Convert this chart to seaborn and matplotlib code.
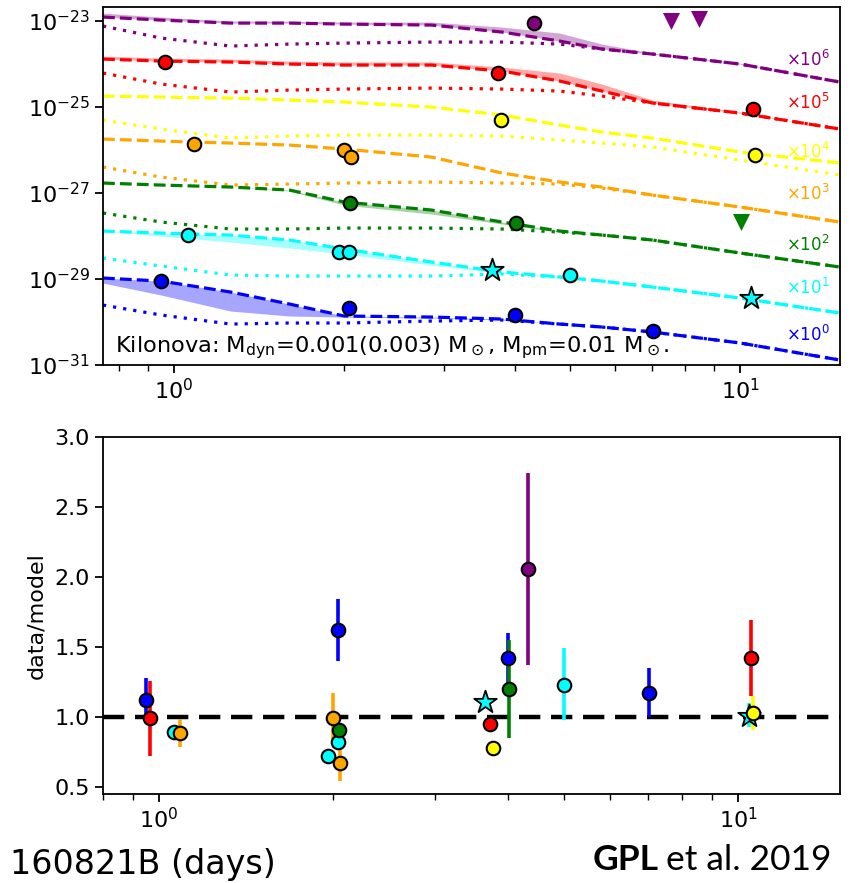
import numpy as np
import matplotlib
matplotlib.use("Agg")
import matplotlib.pyplot as plt
import matplotlib.transforms as mtransforms
from matplotlib.ticker import NullLocator, NullFormatter
import seaborn as sns

# ---------------- data ----------------
bands = ["blue", "cyan", "green", "orange", "yellow", "red", "purple"]
scale_exp = [0, 1, 2, 3, 4, 5, 6]

# model time grid (days since burst)
t_model = [0.75, 0.95, 1.26, 1.6, 2.0, 2.85, 3.8, 4.8, 5.7, 7.0, 10.0, 15.0]

# log10 of scaled flux density: total model (dashed)
purple_tot = [-22.907, -22.977, -23.047, -23.047, -23.070, -23.093, -23.256, -23.465, -23.651, -23.767, -24.000, -24.419]
red_tot    = [-23.884, -23.930, -23.953, -24.000, -24.023, -24.023, -24.163, -24.395, -24.628, -24.907, -25.140, -25.512]
yellow_tot = [-24.744, -24.767, -24.791, -24.837, -24.884, -25.000, -25.186, -25.419, -25.581, -25.721, -26.047, -26.302]
orange_tot = [-25.744, -25.791, -25.837, -25.884, -25.977, -26.163, -26.535, -26.744, -26.860, -27.047, -27.326, -27.674]
green_tot  = [-26.767, -26.814, -26.860, -26.930, -27.209, -27.395, -27.674, -27.884, -27.977, -28.093, -28.395, -28.721]
cyan_tot   = [-27.884, -27.930, -27.977, -28.093, -28.302, -28.605, -28.837, -28.953, -29.047, -29.186, -29.442, -29.791]
blue_tot   = [-28.977, -29.047, -29.302, -29.581, -29.860, -29.884, -29.930, -30.047, -30.116, -30.233, -30.488, -30.884]

# log10 of scaled flux density: alternative ejecta mass (shaded band edge)
purple_alt = [-22.814, -22.907, -23.000, -23.000, -23.023, -23.023, -23.140, -23.279, -23.535, -23.744, -23.977, -24.419]
red_alt    = [-23.814, -23.860, -23.884, -23.930, -23.953, -23.953, -24.070, -24.209, -24.465, -24.837, -25.116, -25.512]
yellow_alt = yellow_tot
orange_alt = orange_tot
green_alt  = [-26.767, -26.814, -26.860, -26.953, -27.279, -27.488, -27.721, -27.907, -27.977, -28.093, -28.395, -28.721]
cyan_alt   = [-27.884, -28.000, -28.140, -28.279, -28.419, -28.674, -28.860, -28.953, -29.047, -29.186, -29.442, -29.791]
blue_alt   = [-29.093, -29.372, -29.744, -29.860, -29.884, -29.907, -29.953, -30.047, -30.116, -30.233, -30.488, -30.884]

# log10 of scaled flux density: afterglow component (dotted)
purple_comp = [-23.116, -23.395, -23.581, -23.535, -23.512, -23.488, -23.488, -23.535, -23.651, -23.767, -24.000, -24.419]
red_comp    = [-24.209, -24.465, -24.651, -24.605, -24.581, -24.558, -24.581, -24.628, -24.744, -24.907, -25.140, -25.512]
yellow_comp = [-25.302, -25.512, -25.721, -25.674, -25.651, -25.651, -25.674, -25.767, -25.837, -25.930, -26.233, -26.581]
orange_comp = [-26.395, -26.628, -26.814, -26.791, -26.767, -26.744, -26.767, -26.791, -26.884, -27.047, -27.326, -27.674]
green_comp  = [-27.465, -27.674, -27.837, -27.837, -27.814, -27.814, -27.837, -27.907, -27.977, -28.093, -28.395, -28.721]
cyan_comp   = [-28.512, -28.698, -28.907, -28.930, -28.930, -28.930, -28.884, -28.953, -29.047, -29.186, -29.442, -29.791]
blue_comp   = [-29.605, -29.837, -30.047, -30.023, -30.023, -29.977, -29.953, -30.047, -30.116, -30.233, -30.488, -30.884]

# observations: time, log10 scaled flux, data/model ratio, lower / upper error
blue_t, blue_f = [0.95, 2.04, 4.01, 7.02], [-29.047, -29.674, -29.837, -30.209]
blue_r, blue_lo, blue_hi = [1.12, 1.62, 1.42, 1.17], [0.15, 0.22, 0.20, 0.17], [0.16, 0.22, 0.18, 0.18]
cyan_t, cyan_f = [1.06, 1.955, 2.035, 5.01], [-27.977, -28.372, -28.372, -28.907]
cyan_r, cyan_lo, cyan_hi = [0.89, 0.72, 0.82, 1.23], [0.0, 0.0, 0.0, 0.25], [0.0, 0.0, 0.0, 0.26]
star_t, star_f = [3.65, 10.45], [-28.79, -29.442]
star_r, star_lo, star_hi = [1.11, 1.01], [0.0, 0.08], [0.0, 0.09]
green_t, green_f = [2.045, 4.02], [-27.233, -27.698]
green_r, green_lo, green_hi = [0.91, 1.20], [0.03, 0.35], [0.03, 0.35]
orange_t, orange_f = [1.085, 1.995, 2.055], [-25.860, -26.000, -26.163]
orange_r, orange_lo, orange_hi = [0.885, 0.99, 0.67], [0.10, 0.18, 0.13], [0.10, 0.18, 0.13]
yellow_t, yellow_f = [3.78, 10.6], [-25.302, -26.116]
yellow_r, yellow_lo, yellow_hi = [0.78, 1.03], [0.0, 0.12], [0.0, 0.12]
red_t, red_f = [0.965, 3.73, 10.53], [-23.953, -24.209, -25.047]
red_r, red_lo, red_hi = [0.99, 0.95, 1.42], [0.27, 0.0, 0.27], [0.27, 0.0, 0.27]
purple_t, purple_f = [4.33], [-23.047]
purple_r, purple_lo, purple_hi = [2.06], [0.69], [0.68]
# upper limits
purple_ul_t, purple_ul_f = [7.55, 8.46], [-23.0, -22.953]
green_ul_t, green_ul_f = [10.04], [-27.674]

# ---------------- styling ----------------
sns.set_theme(style="ticks")
plt.rcParams['font.family'] = ['DejaVu Sans']
plt.rcParams['axes.edgecolor'] = 'black'
plt.rcParams['axes.linewidth'] = 1.3
plt.rcParams['text.color'] = 'black'
plt.rcParams['axes.labelcolor'] = 'black'
plt.rcParams['xtick.color'] = 'black'
plt.rcParams['ytick.color'] = 'black'

colors = {"purple": "#800080", "red": "#ff0000", "yellow": "#ffff00", "orange": "#ffa500",
          "green": "#008000", "cyan": "#00ffff", "blue": "#0000ff"}

curves = {
    "purple": (purple_tot, purple_alt, purple_comp),
    "red": (red_tot, red_alt, red_comp),
    "yellow": (yellow_tot, yellow_alt, yellow_comp),
    "orange": (orange_tot, orange_alt, orange_comp),
    "green": (green_tot, green_alt, green_comp),
    "cyan": (cyan_tot, cyan_alt, cyan_comp),
    "blue": (blue_tot, blue_alt, blue_comp),
}

obs = {
    "blue": (blue_t, blue_f, blue_r, blue_lo, blue_hi),
    "cyan": (cyan_t, cyan_f, cyan_r, cyan_lo, cyan_hi),
    "green": (green_t, green_f, green_r, green_lo, green_hi),
    "orange": (orange_t, orange_f, orange_r, orange_lo, orange_hi),
    "yellow": (yellow_t, yellow_f, yellow_r, yellow_lo, yellow_hi),
    "red": (red_t, red_f, red_r, red_lo, red_hi),
    "purple": (purple_t, purple_f, purple_r, purple_lo, purple_hi),
}

fig = plt.figure(figsize=(8.56, 8.83), dpi=100)
ax1 = fig.add_axes([0.1203, 0.5866, 0.861, 0.4054])
ax2 = fig.add_axes([0.1203, 0.1008, 0.861, 0.4043])

for ax in (ax1, ax2):
    ax.set_xscale('log')
ax1.set_yscale('log')

t = np.array(t_model)
for b in ["purple", "red", "yellow", "orange", "green", "cyan", "blue"]:
    tot, alt, comp = curves[b]
    c = colors[b]
    ax1.fill_between(t, 10 ** np.array(tot), 10 ** np.array(alt), color=c, alpha=0.35, lw=0)
    sns.lineplot(x=t, y=10 ** np.array(tot), ax=ax1, color=c, linestyle=(0, (3.7, 1.6)), linewidth=2.3)
    sns.lineplot(x=t, y=10 ** np.array(comp), ax=ax1, color=c, linestyle=(0, (1, 2.2)), linewidth=2.3)

for b in ["blue", "cyan", "green", "orange", "yellow", "red", "purple"]:
    tt, ff, rr, lo, hi = obs[b]
    sns.scatterplot(x=tt, y=10 ** np.array(ff), ax=ax1, color=colors[b], s=95,
                    edgecolor='black', linewidth=1.5, zorder=5)
sns.scatterplot(x=star_t, y=10 ** np.array(star_f), ax=ax1, color=colors["cyan"], marker='*',
                s=290, edgecolor='black', linewidth=1.3, zorder=5)
sns.scatterplot(x=purple_ul_t, y=10 ** np.array(purple_ul_f), ax=ax1, color=colors["purple"],
                marker='v', s=150, linewidth=0, zorder=5)
sns.scatterplot(x=green_ul_t, y=10 ** np.array(green_ul_f), ax=ax1, color=colors["green"],
                marker='v', s=150, linewidth=0, zorder=5)

ax1.set_xlim(0.75, 15.0)
ax1.set_ylim(1e-31, 10 ** -22.674)
ax1.set_yticks([1e-31, 1e-29, 1e-27, 1e-25, 1e-23])
ax1.yaxis.set_minor_locator(NullLocator())
ax1.xaxis.set_minor_formatter(NullFormatter())

# scale labels
label_logy = {"purple": -23.907, "red": -24.907, "yellow": -26.047, "orange": -27.023,
              "green": -28.209, "cyan": -29.209, "blue": -30.302}
trans = mtransforms.blended_transform_factory(ax1.transAxes, ax1.transData)
for b, e in zip(bands, scale_exp):
    ax1.text(0.986, 10 ** label_logy[b], r'$\times$10$^{%d}$' % e, transform=trans,
             ha='right', va='center', color=colors[b], fontsize=12)

ax1.text(0.016, 0.036, r'Kilonova: M$_{\rm dyn}$=0.001(0.003) M$_\odot$, M$_{\rm pm}$=0.01 M$_\odot$.',
         transform=ax1.transAxes, ha='left', va='baseline', fontsize=16.2)

# ---------------- ratio panel ----------------
for b in ["blue", "cyan", "green", "orange", "yellow", "red", "purple"]:
    tt, ff, rr, lo, hi = obs[b]
    ax2.errorbar(tt, rr, yerr=[lo, hi], fmt='none', ecolor=colors[b], elinewidth=2.6, capsize=0, zorder=2)
ax2.errorbar(star_t, star_r, yerr=[star_lo, star_hi], fmt='none', ecolor=colors["cyan"],
             elinewidth=2.6, capsize=0, zorder=2)
for b in ["blue", "cyan", "green", "orange", "yellow", "red", "purple"]:
    tt, ff, rr, lo, hi = obs[b]
    sns.scatterplot(x=tt, y=rr, ax=ax2, color=colors[b], s=95, edgecolor='black', linewidth=1.5, zorder=4)
sns.scatterplot(x=star_t, y=star_r, ax=ax2, color=colors["cyan"], marker='*', s=290,
                edgecolor='black', linewidth=1.3, zorder=3)

ax2.axhline(1.0, color='black', linestyle=(0, (4.8, 2.4)), linewidth=3.2, zorder=1)
ax2.set_xlim(0.8, 15.0)
ax2.set_ylim(0.45, 3.0)
ax2.set_yticks([0.5, 1.0, 1.5, 2.0, 2.5, 3.0])
ax2.xaxis.set_minor_formatter(NullFormatter())
ax2.set_ylabel('data/model', fontsize=16, labelpad=6)

for ax in (ax1, ax2):
    ax.tick_params(which='major', labelsize=16, length=6, width=1.3, direction='out', color='black',
                   labelcolor='black')
    ax.tick_params(which='minor', length=4, width=1.0, color='black')
    for s in ax.spines.values():
        s.set_visible(True)
        s.set_color('black')

fig.text(10 / 856, 0.0102, '160821B (days)', fontsize=24, ha='left', va='baseline', color='black')
fig.text(593 / 856, 0.0147, 'GPL', fontsize=25.5, fontweight='bold', family=['Lato', 'DejaVu Sans'],
         ha='left', va='baseline', color='black')
fig.text(666 / 856, 0.0147, 'et al. 2019', fontsize=25.5, family=['Lato', 'DejaVu Sans'],
         ha='left', va='baseline', color='black')

fig.savefig('out.png', dpi=100)
